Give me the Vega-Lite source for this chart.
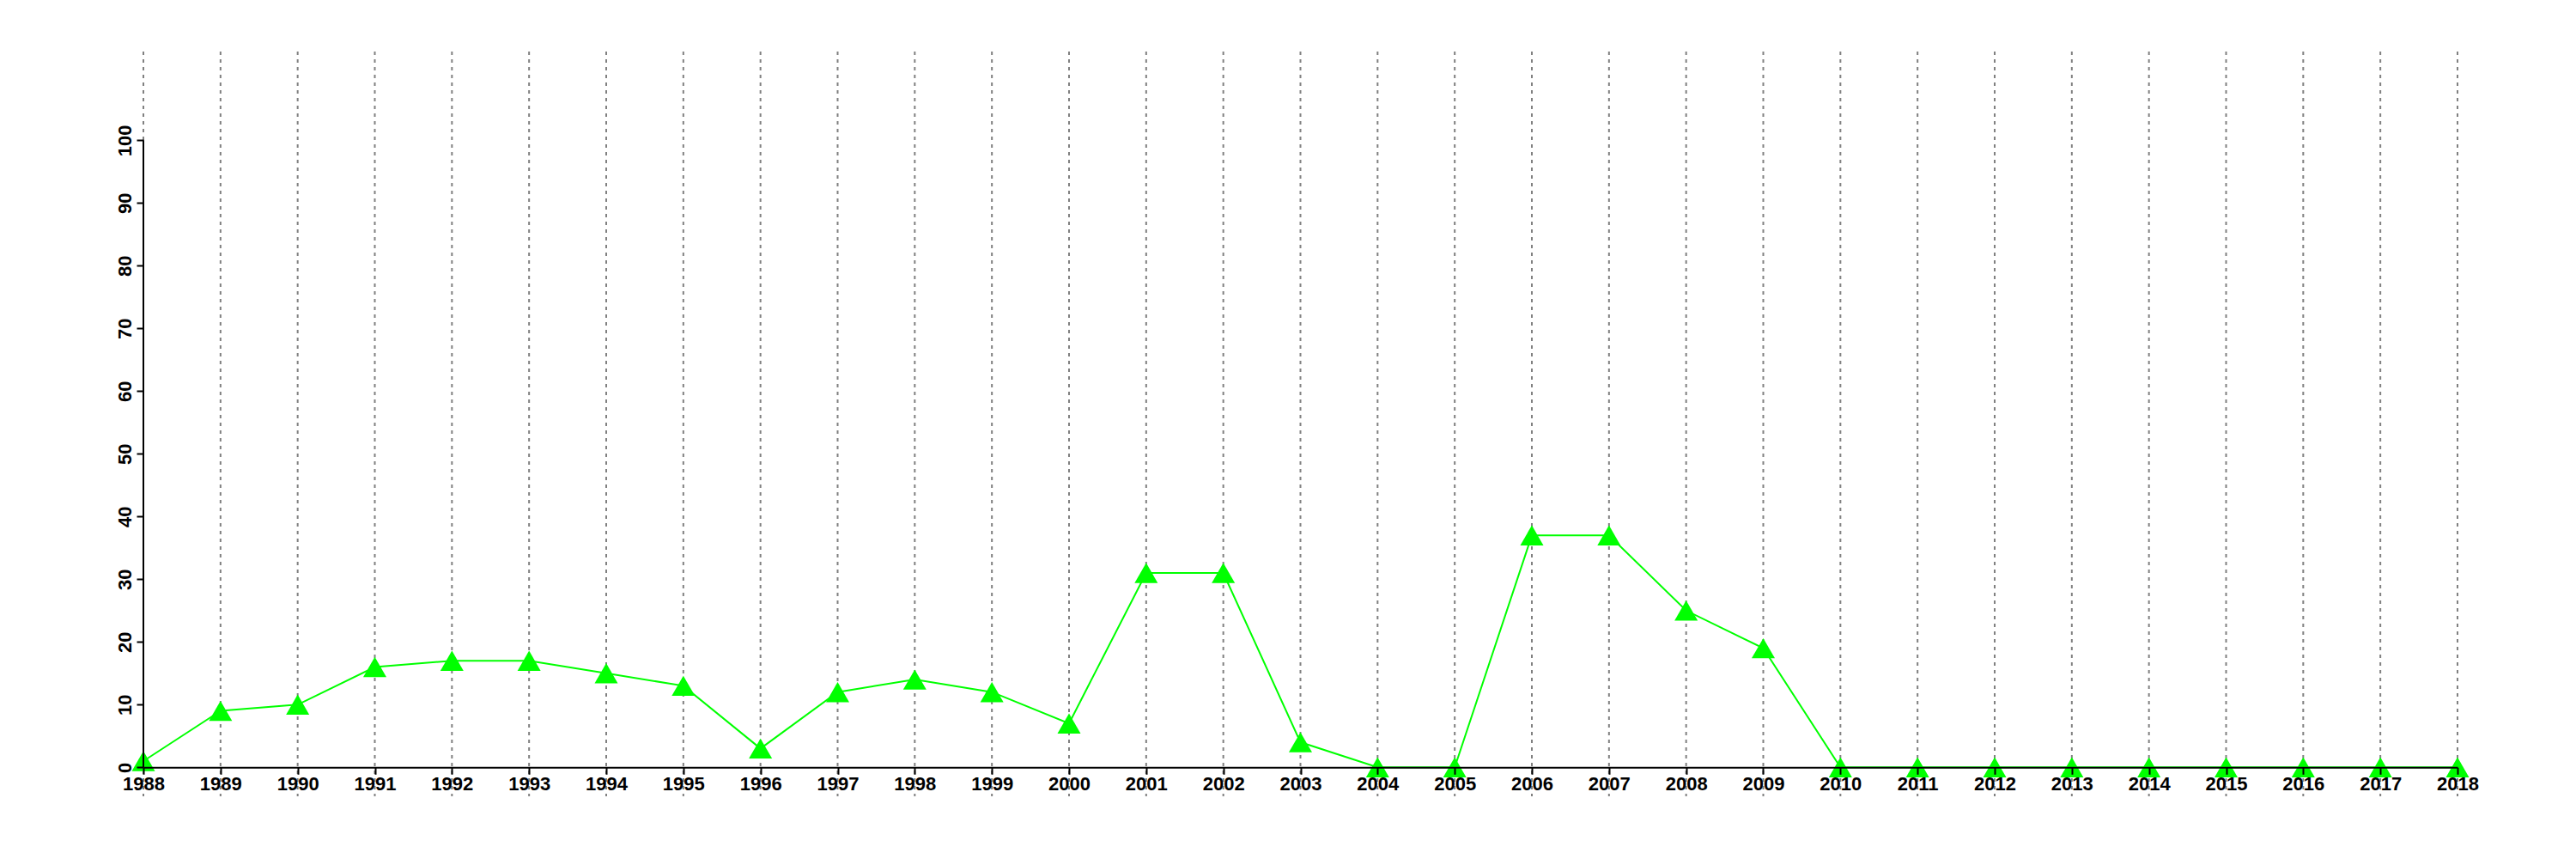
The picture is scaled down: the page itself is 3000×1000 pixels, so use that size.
{
  "$schema": "https://vega.github.io/schema/vega-lite/v6.json",
  "width": 2695,
  "height": 867,
  "autosize": {"type": "none"},
  "padding": {"left": 167, "top": 60, "right": 138, "bottom": 73},
  "background": "white",
  "config": {"view": {"stroke": null}},
  "data": {"values": [
    {"year": 1988, "value": 1},
    {"year": 1989, "value": 9},
    {"year": 1990, "value": 10},
    {"year": 1991, "value": 16},
    {"year": 1992, "value": 17},
    {"year": 1993, "value": 17},
    {"year": 1994, "value": 15},
    {"year": 1995, "value": 13},
    {"year": 1996, "value": 3},
    {"year": 1997, "value": 12},
    {"year": 1998, "value": 14},
    {"year": 1999, "value": 12},
    {"year": 2000, "value": 7},
    {"year": 2001, "value": 31},
    {"year": 2002, "value": 31},
    {"year": 2003, "value": 4},
    {"year": 2004, "value": 0},
    {"year": 2005, "value": 0},
    {"year": 2006, "value": 37},
    {"year": 2007, "value": 37},
    {"year": 2008, "value": 25},
    {"year": 2009, "value": 19},
    {"year": 2010, "value": 0},
    {"year": 2011, "value": 0},
    {"year": 2012, "value": 0},
    {"year": 2013, "value": 0},
    {"year": 2014, "value": 0},
    {"year": 2015, "value": 0},
    {"year": 2016, "value": 0},
    {"year": 2017, "value": 0},
    {"year": 2018, "value": 0}
  ]},
  "encoding": {
    "x": {
      "field": "year",
      "type": "quantitative",
      "scale": {"domain": [1988, 2018], "nice": false, "zero": false},
      "axis": {
        "grid": false,
        "values": [1988,1989,1990,1991,1992,1993,1994,1995,1996,1997,1998,1999,2000,2001,2002,2003,2004,2005,2006,2007,2008,2009,2010,2011,2012,2013,2014,2015,2016,2017,2018],
        "format": "d",
        "title": null,
        "offset": -33.7,
        "labelFont": "Liberation Sans",
        "labelFontWeight": "bold",
        "labelFontSize": 22,
        "labelColor": "black",
        "labelPadding": 1,
        "labelFlush": false,
        "labelOverlap": false,
        "tickColor": "black",
        "tickWidth": 2,
        "tickSize": 8,
        "domainColor": "black",
        "domainWidth": 2,
        "zindex": 1
      }
    }
  },
  "layer": [
    {
      "mark": {"type": "rule", "color": "#808080", "strokeDash": [4, 5], "strokeWidth": 2},
      "encoding": {}
    },
    {
      "mark": {"type": "line", "color": "#00ff00", "strokeWidth": 2},
      "encoding": {
        "y": {
          "field": "value",
          "type": "quantitative",
          "scale": {"domain": [-4.62, 114.15], "nice": false, "zero": false},
          "axis": {
            "values": [0,10,20,30,40,50,60,70,80,90,100],
            "domain": false,
            "grid": false,
            "title": null,
            "labelAngle": 270,
            "labelAlign": "center",
            "labelBaseline": "alphabetic",
            "labelPadding": 7,
            "labelFont": "Liberation Sans",
            "labelFontWeight": "bold",
            "labelFontSize": 22,
            "labelColor": "black",
            "tickColor": "black",
            "tickWidth": 2,
            "tickSize": 8,
            "zindex": 1
          }
        }
      }
    },
    {
      "mark": {"type": "point", "shape": "triangle-up", "filled": true, "size": 730, "color": "#00ff00", "opacity": 1},
      "encoding": {
        "y": {"field": "value", "type": "quantitative"}
      }
    },
    {
      "data": {"values": [{"x": 1988, "y0": 0, "y1": 100}]},
      "mark": {"type": "rule", "color": "black", "strokeWidth": 2},
      "encoding": {
        "x": {"field": "x", "type": "quantitative"},
        "y": {"field": "y0", "type": "quantitative"},
        "y2": {"field": "y1"}
      }
    }
  ]
}
